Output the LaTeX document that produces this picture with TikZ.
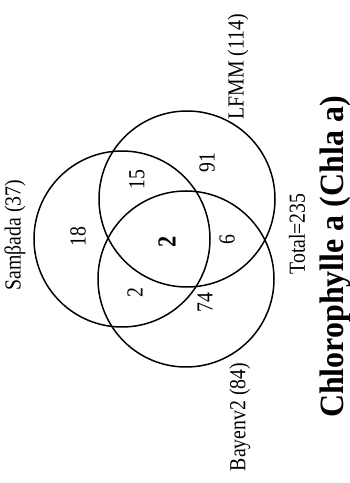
\documentclass[tikz,border=0pt]{standalone}
\usepackage{graphicx}
\usepackage{fontspec}
\setmainfont{Liberation Serif}
\newcommand{\cond}[1]{\scalebox{0.86}[1]{#1}}
\begin{document}
\begin{tikzpicture}[x=1pt,y=1pt,
  venn/.style={draw=black,line width=1.5pt,circle,minimum size=176pt,inner sep=0pt},
  lab/.style={rotate=90,inner sep=0pt,font=\fontsize{23}{27}\selectfont},
  numb/.style={rotate=90,inner sep=0pt,font=\fontsize{23}{27}\selectfont},
  title/.style={rotate=90,inner sep=0pt,font=\fontsize{34}{40}\selectfont\bfseries}]
\useasboundingbox (0,0) rectangle (349,483);
\node[venn] (S) at (122,244) {};
\node[venn] (L) at (187,284) {};
\node[venn] (B) at (186,204) {};
\node[lab] (tS) at (15,248) {\cond{Samβada (37)}};
\node[lab] (tL) at (238,416) {\cond{LFMM (114)}};
\node[lab] (tB) at (240,66) {\cond{Bayenv2 (84)}};
\node[lab] (tT) at (297,249) {\cond{Total=235}};
\node[numb] (n18) at (78,246) {\cond{18}};
\node[numb] (n15) at (137,303) {\cond{15}};
\node[numb,font=\fontsize{26}{30}\selectfont\bfseries] (n2c) at (167,241) {\cond{2}};
\node[numb] (n2) at (135,190) {\cond{2}};
\node[numb] (n91) at (207,320) {\cond{91}};
\node[numb] (n6) at (227,243) {\cond{6}};
\node[numb] (n74) at (205,180) {\cond{74}};
\node[title] (tt) at (335,226) {\scalebox{0.94}[1]{Chlorophylle a (Chla a)}};
\end{tikzpicture}
\end{document}
